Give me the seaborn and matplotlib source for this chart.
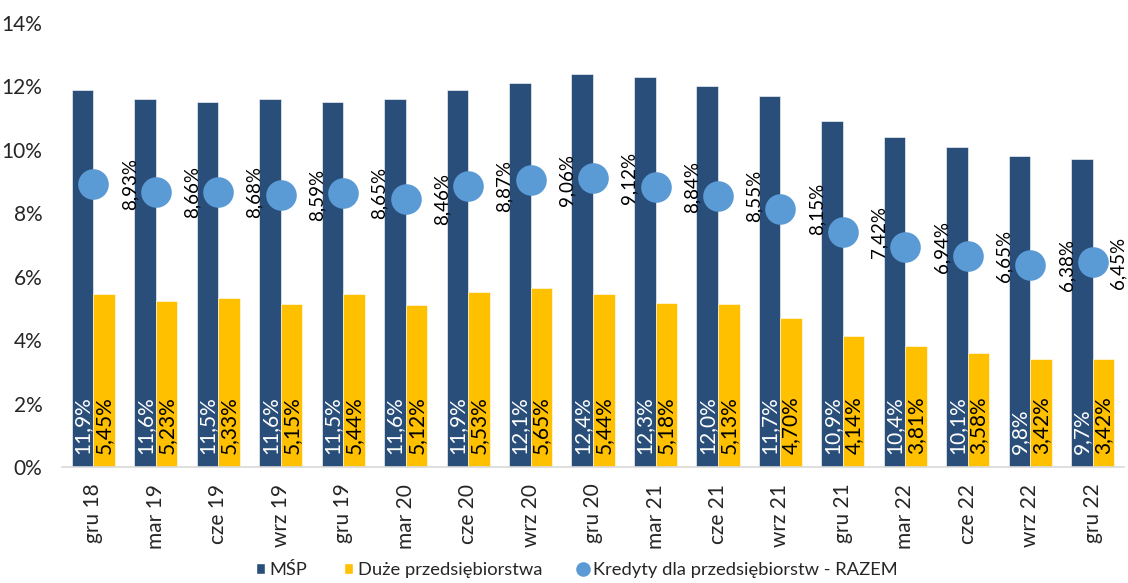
import matplotlib
matplotlib.use("Agg")
import matplotlib.pyplot as plt
from matplotlib.patches import Patch
from matplotlib.lines import Line2D
from matplotlib.ticker import FuncFormatter
import seaborn as sns
import pandas as pd

# Quarterly credit cost ratios (%)
quarters = ["gru 18", "mar 19", "cze 19", "wrz 19", "gru 19", "mar 20", "cze 20",
            "wrz 20", "gru 20", "mar 21", "cze 21", "wrz 21", "gru 21", "mar 22",
            "cze 22", "wrz 22", "gru 22"]
msp = [11.9, 11.6, 11.5, 11.6, 11.5, 11.6, 11.9, 12.1, 12.4, 12.3, 12.0, 11.7,
       10.9, 10.4, 10.1, 9.8, 9.7]
duze = [5.45, 5.23, 5.33, 5.15, 5.44, 5.12, 5.53, 5.65, 5.44, 5.18, 5.13, 4.70,
        4.14, 3.81, 3.58, 3.42, 3.42]
razem = [8.93, 8.66, 8.68, 8.59, 8.65, 8.46, 8.87, 9.06, 9.12, 8.84, 8.55, 8.15,
         7.42, 6.94, 6.65, 6.38, 6.45]

s_msp = "MŚP"
s_duze = "Duże przedsiębiorstwa"
s_razem = "Kredyty dla przedsiębiorstw - RAZEM"

c_msp = "#294E79"
c_duze = "#FFC000"
c_razem = "#5B9BD5"

sns.set_theme(style="white")
plt.rcParams["font.family"] = ["Lato", "DejaVu Sans"]

bars = pd.DataFrame({
    "okres": quarters * 2,
    "wartosc": msp + duze,
    "grupa": [s_msp] * len(quarters) + [s_duze] * len(quarters),
})
total = pd.DataFrame({"okres": quarters, "wartosc": razem})

fig = plt.figure(figsize=(11.28, 5.83), dpi=100)
ax = fig.add_axes([0.055, 0.199, 0.9415, 0.7615])

sns.barplot(data=bars, x="okres", y="wartosc", hue="grupa", order=quarters,
            hue_order=[s_msp, s_duze], palette=[c_msp, c_duze], width=0.69,
            saturation=1, edgecolor="white", linewidth=0.4, ax=ax, legend=False)

sns.pointplot(data=total, x="okres", y="wartosc", order=quarters, color=c_razem,
              linestyle="none", markers="o", markersize=20, errorbar=None, ax=ax)

def fmt(v, nd):
    return f"{v:.{nd}f}".replace(".", ",") + "%"

# Value labels inside the bars
for cont, vals, col, nd in zip(ax.containers[:2], [msp, duze], ["white", "black"], [1, 2]):
    for patch, v in zip(cont.patches, vals):
        ax.text(patch.get_x() + patch.get_width() / 2, 0.42, fmt(v, nd),
                rotation=90, ha="center", va="bottom", color=col, fontsize=15)

# Labels for the total line, to the right of each marker, kept inside the axes
last = len(quarters) - 0.5
for i, v in enumerate(razem):
    x = min(i + 0.58, last - 0.1)
    ax.text(x, v, fmt(v, 2), rotation=90, ha="center", va="center",
            color="black", fontsize=13.5)

ax.set_xlim(-0.5, last)
ax.set_ylim(0, 14)
ax.set_yticks(range(0, 15, 2))
ax.yaxis.set_major_formatter(FuncFormatter(lambda v, p: f"{v:.0f}%"))
ax.set_xlabel("")
ax.set_ylabel("")
ax.tick_params(axis="y", labelsize=15, pad=14, length=0)
ax.tick_params(axis="x", labelsize=15, pad=12, length=0, labelrotation=90)

for side in ["top", "right", "left"]:
    ax.spines[side].set_visible(False)
ax.spines["bottom"].set_color("#D9D9D9")
ax.spines["bottom"].set_linewidth(1.2)

handles = [
    Patch(facecolor=c_msp, label=s_msp),
    Patch(facecolor=c_duze, label=s_duze),
    Line2D([], [], marker="o", linestyle="none", markerfacecolor=c_razem,
           markeredgecolor=c_razem, markersize=9.5, label=s_razem),
]
fig.legend(handles=handles, loc="center", bbox_to_anchor=(0.511, 0.022), ncol=3,
           frameon=False, fontsize=13.2, handlelength=0.5, handleheight=0.5,
           handletextpad=0.25, columnspacing=2.0)

fig.savefig("out.png", dpi=100)
